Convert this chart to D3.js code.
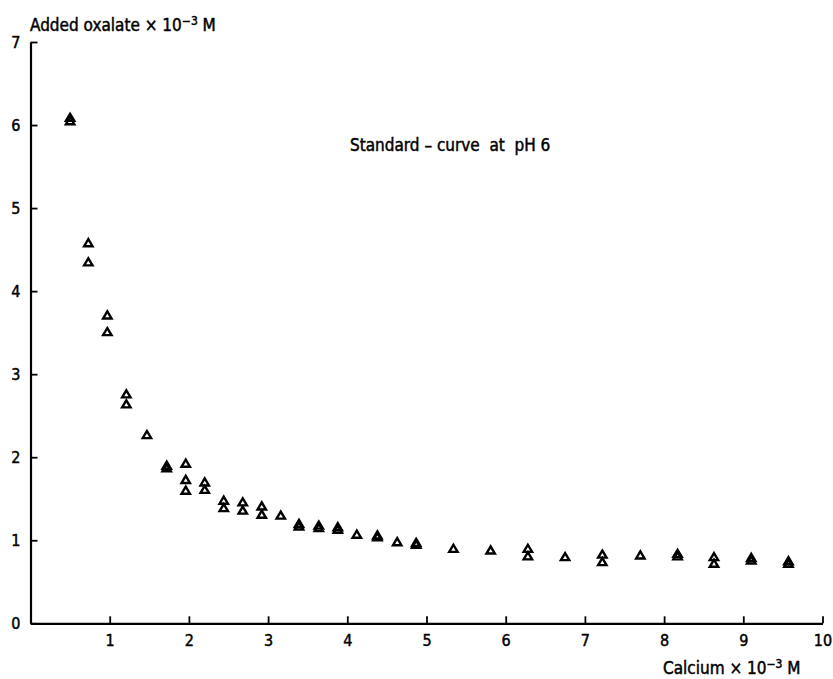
<!DOCTYPE html>
<html>
<head>
<meta charset="utf-8">
<script src="https://cdn.jsdelivr.net/npm/d3@7"></script>
<style>
  html, body { margin: 0; padding: 0; background: #fff; }
  svg { display: block; }
  text { font-family: "Liberation Sans Narrow", "DejaVu Sans Condensed", "Liberation Sans", sans-serif; fill: #000; stroke: #000; stroke-width: 0.45px; }
</style>
</head>
<body>
<svg id="chart" width="833" height="679"></svg>
<script>
// Calcium concentration (x 10^-3 M) for each measured point
const calcium = [
  0.50, 0.50,
  0.73, 0.73,
  0.97, 0.97,
  1.21, 1.21,
  1.47,
  1.72, 1.72,
  1.96, 1.96, 1.96,
  2.20, 2.20,
  2.44, 2.44,
  2.68, 2.68,
  2.92, 2.92,
  3.16,
  3.39, 3.39,
  3.64, 3.64,
  3.88, 3.88,
  4.12,
  4.38, 4.38,
  4.63,
  4.87, 4.87,
  5.34,
  5.81,
  6.28, 6.28,
  6.75,
  7.22, 7.22,
  7.70,
  8.17, 8.17,
  8.63, 8.63,
  9.10, 9.10,
  9.57, 9.57
];
// Added oxalate (x 10^-3 M) for each measured point
const oxalate = [
  6.09, 6.05,
  4.58, 4.35,
  3.71, 3.51,
  2.76, 2.64,
  2.27,
  1.90, 1.87,
  1.925, 1.73, 1.60,
  1.70, 1.61,
  1.48, 1.39,
  1.46, 1.36,
  1.41, 1.31,
  1.30,
  1.20, 1.17,
  1.18, 1.15,
  1.16, 1.13,
  1.07,
  1.06, 1.04,
  0.98,
  0.97, 0.95,
  0.90,
  0.88,
  0.90, 0.81,
  0.80,
  0.83, 0.74,
  0.82,
  0.84, 0.81,
  0.80, 0.72,
  0.79, 0.76,
  0.75, 0.72
];
const xTicks = [1, 2, 3, 4, 5, 6, 7, 8, 9, 10];
const yTicks = [0, 1, 2, 3, 4, 5, 6, 7];
const yTitle = "Added oxalate \u00d7 10";
const xTitle = "Calcium \u00d7 10";
const note = "Standard \u2013 curve  at  pH 6";

const svg = d3.select("#chart");
const x = d3.scaleLinear().domain([0, 10]).range([30.5, 822.5]);
const y = d3.scaleLinear().domain([0, 7]).range([623.3, 42]);

const fs = 16;

// Y axis
const gy = svg.append("g").attr("transform", `translate(${x(0)},0)`)
  .call(d3.axisLeft(y).tickValues(yTicks).tickFormat(d3.format("d"))
    .tickSize(-7).tickSizeOuter(0).tickPadding(10));
gy.select(".domain").attr("stroke-width", 2.2);
gy.selectAll(".tick line").attr("stroke-width", 1.8);
gy.selectAll(".tick text").attr("font-size", fs).attr("font-family", null);

// X axis
const gx = svg.append("g").attr("transform", `translate(0,${y(0)})`)
  .call(d3.axisBottom(x).tickValues(xTicks).tickFormat(d3.format("d"))
    .tickSize(-7).tickSizeOuter(0).tickPadding(11));
gx.select(".domain").attr("stroke-width", 2.2);
gx.selectAll(".tick line").attr("stroke-width", 1.8);
gx.selectAll(".tick text").attr("font-size", fs).attr("font-family", null);

// Axis titles
function titleWithExp(sel, base) {
  sel.append("tspan").text(base);
  sel.append("tspan").attr("dy", -6).attr("font-size", 12).text("\u22123");
  sel.append("tspan").attr("dy", 6).text(" M");
}
const ty = svg.append("text").attr("x", 30).attr("y", 31).attr("font-size", 17);
titleWithExp(ty, yTitle);
const tx = svg.append("text").attr("x", 663).attr("y", 674).attr("font-size", 17);
titleWithExp(tx, xTitle);

// Annotation
svg.append("text").attr("x", 350).attr("y", 151).attr("font-size", 17)
  .style("white-space", "pre").text(note);

// Points
const tri = "M0,-3.8L4.2,3.3L-4.2,3.3Z";
svg.append("g").selectAll("path").data(d3.range(calcium.length)).join("path")
  .attr("d", tri)
  .attr("transform", i => `translate(${x(calcium[i])},${y(oxalate[i])})`)
  .attr("fill", "none")
  .attr("stroke", "#000")
  .attr("stroke-width", 2.4)
  .attr("stroke-linejoin", "miter");
</script>
</body>
</html>
